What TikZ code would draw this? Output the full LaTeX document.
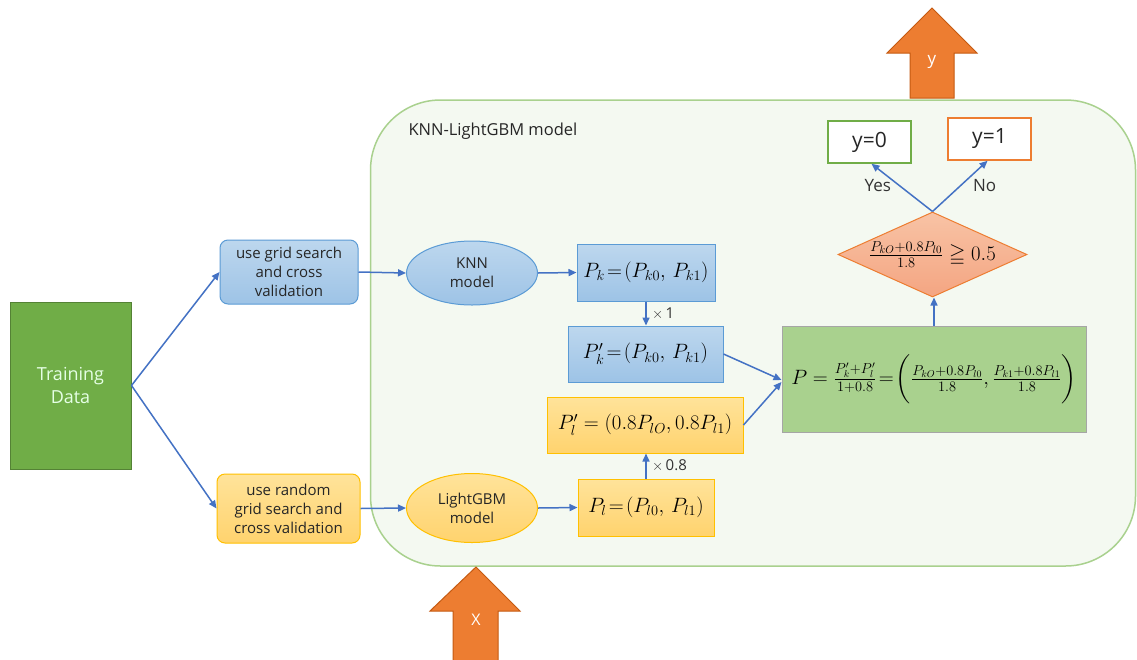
\documentclass[tikz,border=0pt]{standalone}
\usepackage{amsmath,amssymb}
\usepackage[no-math]{fontspec}
\setmainfont{Open Sans}
\usetikzlibrary{shapes.geometric,arrows.meta,calc}
\definecolor{conn}{HTML}{4472C4}
\definecolor{bluefillA}{HTML}{BDD7EE}
\definecolor{bluefillB}{HTML}{9DC3E6}
\definecolor{blueline}{HTML}{5B9BD5}
\definecolor{yelfillA}{HTML}{FFE39A}
\definecolor{yelfillB}{HTML}{FFD36E}
\definecolor{yelline}{HTML}{FFC000}
\definecolor{orgfill}{HTML}{ED7D31}
\definecolor{orgline}{HTML}{C55A11}
\definecolor{grnfill}{HTML}{70AD47}
\definecolor{grnline}{HTML}{548235}
\definecolor{lgrn}{HTML}{A9D18E}
\definecolor{contfill}{HTML}{F4F9F1}
\definecolor{salA}{HTML}{F8C3A5}
\definecolor{salB}{HTML}{F4A582}
\tikzset{
  conn/.style={draw=conn, line width=1.5pt, -{Triangle[length=8pt,width=7pt]}},
  bluebox/.style={draw=blueline, line width=1pt, top color=bluefillA, bottom color=bluefillB, inner sep=0pt},
  yelbox/.style={draw=yelline, line width=1pt, top color=yelfillA, bottom color=yelfillB, inner sep=0pt},
  txt/.style={font=\fontsize{15}{19}\selectfont, align=center, text=black!85},
  mth/.style={font=\fontsize{20}{24}\selectfont},
  lab/.style={font=\fontsize{15}{18}\selectfont, text=black!80},
  yn/.style={font=\fontsize{17}{20}\selectfont, text=black!80},
  bigarrow/.style={fill=orgfill, draw=orgline, line width=1pt},
}
\begin{document}
\begin{tikzpicture}[x=1pt,y=-1pt]
\useasboundingbox[fill=white] (0,0) rectangle (1137,659);

% container
\node[draw=lgrn, fill=contfill, line width=1.5pt, rounded corners=70pt,
      minimum width=765pt, minimum height=466pt, inner sep=0pt] (model) at (753,333) {};
\node[anchor=west, font=\fontsize{16.5}{20}\selectfont, text=black!85] (mlabel) at (405,131) {KNN-LightGBM model};

% big arrows
\draw[bigarrow] (932,8) -- (977,53) -- (954,53) -- (954,98) -- (910,98) -- (910,53) -- (887,53) -- cycle;
\node[text=white, font=\fontsize{17}{20}\selectfont] (ylab) at (932,62) {y};
\draw[bigarrow] (476,567) -- (520,611) -- (498,611) -- (498,665) -- (453,665) -- (453,611) -- (430,611) -- cycle;
\node[text=white, font=\fontsize{16}{20}\selectfont] (xlab) at (476,620) {X};

% training data
\node[fill=grnfill, draw=grnline, line width=1pt, minimum width=121pt, minimum height=167pt,
      font=\fontsize{18}{23}\selectfont, text=green!10!white, align=center] (td) at (70.5,385.5) {Training\\Data};

% tuning boxes
\node[bluebox, rounded corners=8pt, minimum width=138pt, minimum height=64pt, txt] (gs) at (289,272) {use grid search\\and cross\\validation};
\node[yelbox, rounded corners=8pt, minimum width=143pt, minimum height=69pt, txt] (rs) at (288.5,508.5) {use random\\grid search and\\cross validation};

% models
\node[bluebox, ellipse, minimum width=131pt, minimum height=64pt, txt] (knn) at (472,273) {KNN\\model};
\node[yelbox, ellipse, minimum width=131pt, minimum height=69pt, txt] (lgb) at (472,508) {LightGBM\\model};

% probability boxes
\node[bluebox, minimum width=138pt, minimum height=57pt, mth] (pk) at (646,272.5) {$P_k\!=\!(P_{k0},\,P_{k1})$};
\node[bluebox, minimum width=155pt, minimum height=56pt, mth] (pkp) at (645.5,354) {$P'_k\!=\!(P_{k0},\,P_{k1})$};
\node[yelbox, minimum width=196pt, minimum height=56pt, mth] (plp) at (645,425) {$P'_l=(0.8P_{lO},0.8P_{l1})$};
\node[yelbox, minimum width=136pt, minimum height=57pt, mth] (pl) at (646,507.5) {$P_l\!=\!(P_{l0},\,P_{l1})$};

% combined
\node[fill=lgrn, draw=black!35, line width=1pt, minimum width=304pt, minimum height=106pt, inner sep=0pt,
      font=\fontsize{20.5}{24}\selectfont] (p) at (934,379)
  {$P=\frac{P'_k+P'_l}{1+0.8}\!=\!\biggl(\frac{P_{kO}+0.8P_{l0}}{1.8},\frac{P_{k1}+0.8P_{l1}}{1.8}\biggr)$};

% decision
\node[diamond, aspect=2.22, draw=orgfill, line width=1pt, top color=salA, bottom color=salB,
      minimum width=189pt, minimum height=85pt, inner sep=0pt, font=\fontsize{21}{25}\selectfont] (dec) at (932.5,254.5)
  {$\frac{P_{kO}+0.8P_{l0}}{1.8}\geqq 0.5$};

% outputs
\node[draw=grnfill, fill=white, line width=1.5pt, minimum width=83pt, minimum height=42pt,
      font=\fontsize{21}{25}\selectfont, text=black!85] (y0) at (869.5,142) {y=0};
\node[draw=orgfill, fill=white, line width=1.5pt, minimum width=83pt, minimum height=42pt,
      font=\fontsize{21}{25}\selectfont, text=black!85] (y1) at (989.5,139) {y=1};

% connectors
\draw[conn] (td.east) -- (gs.west);
\draw[conn] (td.east) -- (rs.west);
\draw[conn] (gs.east) -- (knn.west);
\draw[conn] (rs.east) -- (lgb.west);
\draw[conn] (knn.east) -- (pk.west);
\draw[conn] (lgb.east) -- (pl.west);
\draw[conn] (pk.south) -- node[right, lab, xshift=2pt] {$\times\,$1} (pk.south |- pkp.north);
\draw[conn] (pl.north) -- node[right, lab, xshift=2pt] {$\times\,$0.8} (pl.north |- plp.south);
\draw[conn] (pkp.east) -- ($(p.west)+(0,1)$);
\draw[conn] (plp.east) -- ($(p.west)+(0,3)$);
\draw[conn] (p.north) -- (p.north |- dec.south);
\draw[conn] (dec.north) -- node[left, yn, xshift=-7pt, yshift=2pt] {Yes} ($(y0.south)+(2,0)$);
\draw[conn] (dec.north) -- node[right, yn, xshift=9pt, yshift=1pt] {No} ($(y1.south)+(-2,0)$);
\end{tikzpicture}
\end{document}
